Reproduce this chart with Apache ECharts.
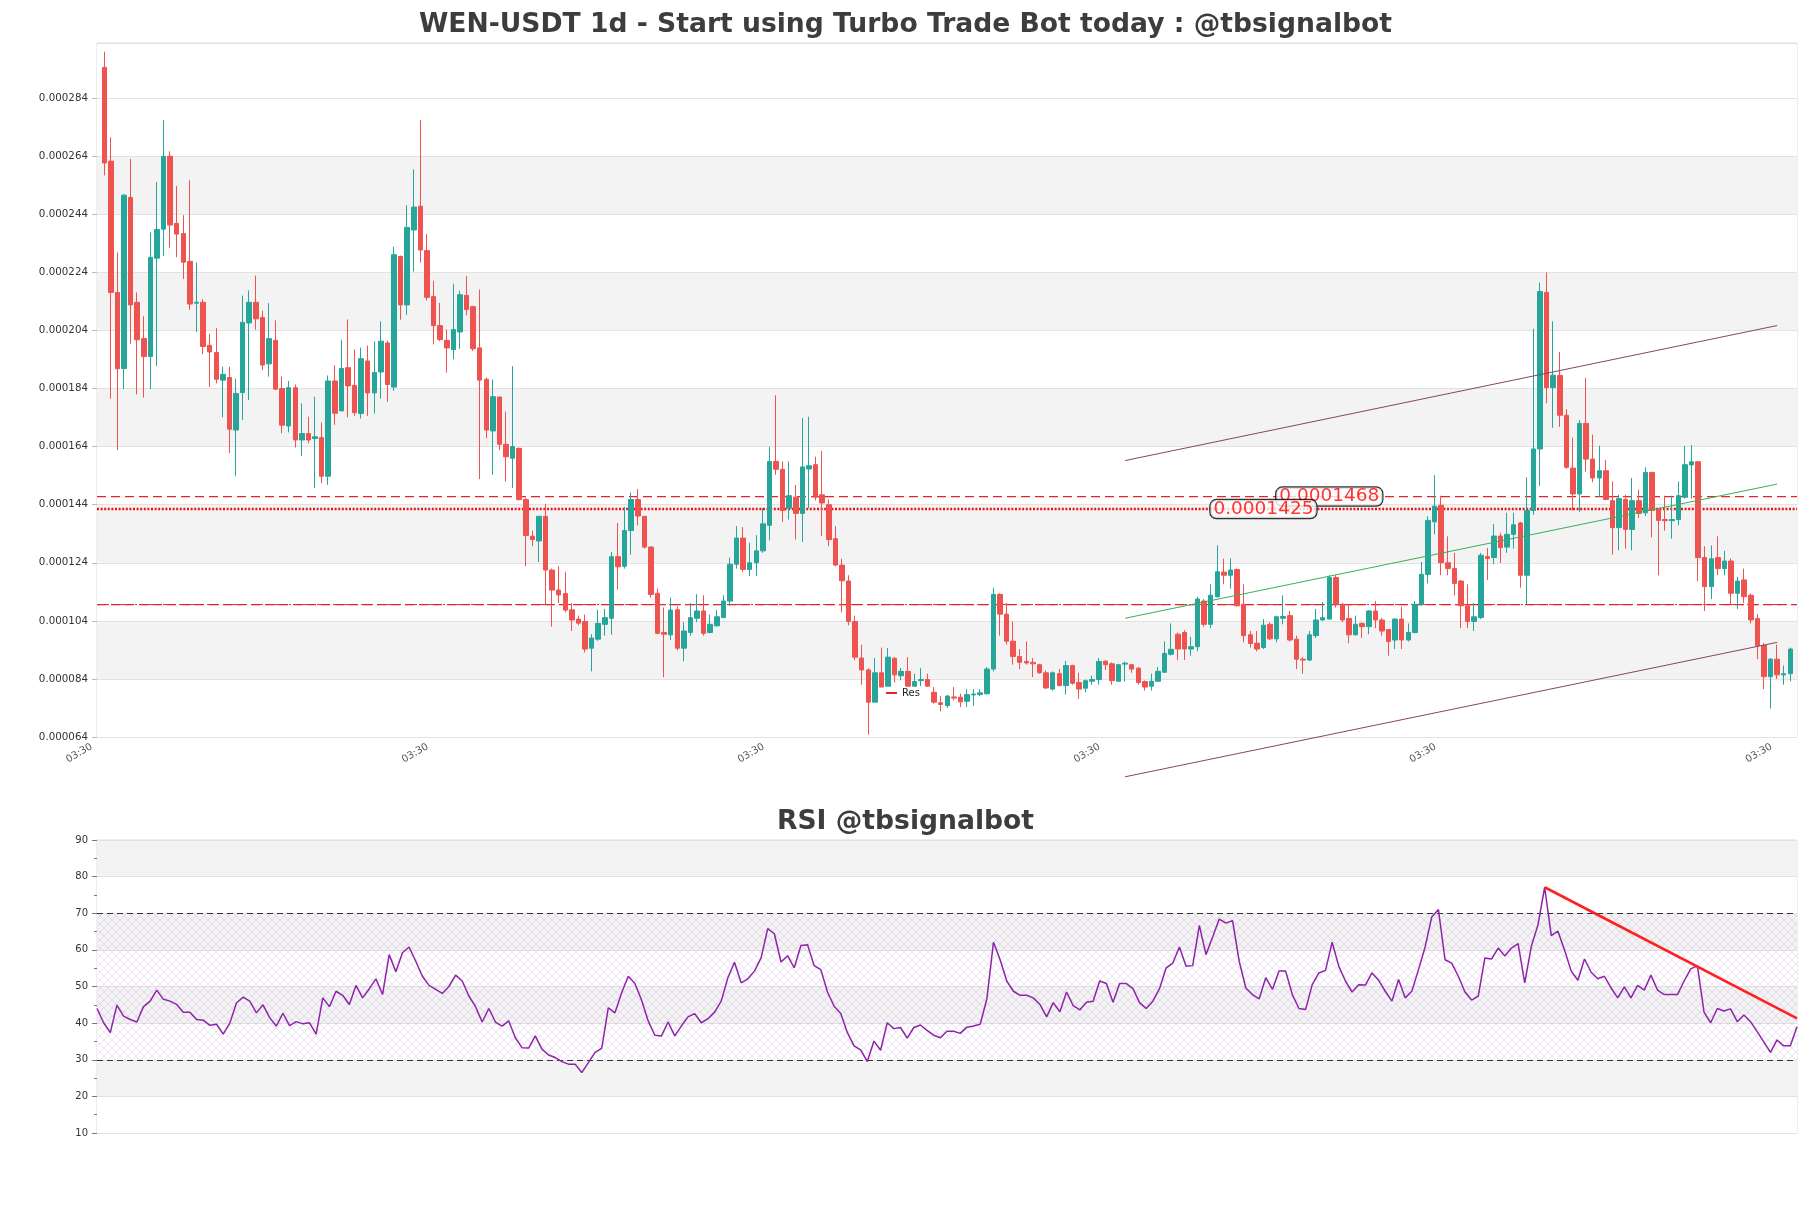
<!DOCTYPE html>
<html>
<head>
<meta charset="utf-8">
<title>WEN-USDT 1d</title>
<script src="https://cdn.jsdelivr.net/npm/echarts/dist/echarts.min.js"></script>
<style>
html,body{margin:0;padding:0;background:#fff;}
#chart{width:1811px;height:1208px;}
</style>
</head>
<body>
<div id="chart"></div>
<script>
// ---------------- data (prices in micro-USDT, i.e. x 1e-6) ----------------
const open = [
294.6,262.3,217.1,190.9,249.8,213.7,201.2,195.0,228.9,238.9,
264.0,240.9,237.4,227.8,213.4,213.7,198.9,196.4,186.9,187.8,
169.7,182.6,206.6,213.7,208.5,192.5,200.6,184.0,171.1,184.3,
166.3,168.5,166.8,167.1,153.8,186.6,176.3,191.2,185.1,175.4,
193.5,182.5,189.7,199.7,184.5,229.5,212.8,238.6,246.8,231.5,
215.7,205.7,200.6,197.4,203.5,216.1,212.2,198.0,187.2,169.4,
181.1,164.8,160.0,163.4,145.8,133.1,131.5,140.0,121.5,114.6,
113.4,107.8,104.6,103.8,94.6,97.7,102.8,104.9,126.1,122.8,
135.1,145.8,140.0,129.4,113.5,100.0,99.2,107.8,94.6,100.0,
104.9,107.4,100.0,102.3,105.1,110.8,123.5,132.5,121.7,124.0,
128.1,136.9,158.9,156.2,142.8,146.6,141.0,156.3,157.8,147.4,
144.0,132.3,123.2,117.7,103.8,91.2,87.1,76.0,86.1,81.5,
91.1,85.1,86.6,81.5,83.4,83.8,79.4,75.8,74.8,77.8,
77.7,76.3,78.5,78.6,78.9,87.4,113.1,106.3,97.0,91.7,
90.0,89.7,88.9,86.1,80.5,85.8,81.7,88.6,82.8,80.8,
83.2,83.8,90.1,89.2,83.2,89.1,88.9,87.7,83.1,81.5,
83.2,86.3,92.5,99.4,100.0,94.3,95.1,110.8,102.8,112.3,
120.8,119.7,121.7,109.7,99.2,96.3,94.8,102.8,97.8,104.9,
105.8,97.7,90.8,90.5,98.9,104.3,104.6,118.9,109.7,104.8,
99.2,103.1,102.0,107.4,104.3,101.0,97.4,104.6,97.4,100.0,
109.7,120.0,138.1,143.8,124.0,122.0,117.7,109.2,103.8,105.1,
126.1,125.8,133.2,129.4,133.8,137.7,119.7,142.0,163.2,217.1,
184.3,188.5,174.8,156.6,147.7,172.0,159.7,153.2,155.7,145.4,
136.1,145.8,135.5,145.4,141.2,155.1,142.3,138.9,138.5,138.9,
146.6,157.7,158.8,125.8,115.8,125.8,122.0,124.6,113.5,118.1,
112.8,104.8,95.5,84.8,90.8,85.4,85.8
];
const close = [
261.7,217.1,190.8,250.6,212.8,200.8,195.0,229.2,238.8,264.0,
240.3,237.2,227.5,213.1,213.7,198.5,196.6,187.2,188.9,170.0,
182.3,206.8,213.7,208.0,192.1,201.2,183.8,171.4,184.3,166.3,
168.5,166.3,167.4,153.8,186.6,175.5,190.9,184.9,175.7,194.3,
182.5,189.5,200.3,185.4,230.1,212.8,239.5,246.5,231.7,215.4,
205.7,200.9,198.0,204.3,216.3,211.2,197.7,186.9,169.7,181.2,
164.8,160.5,164.0,145.8,133.4,132.0,140.0,121.5,114.6,112.9,
107.7,104.3,103.2,94.3,98.1,103.1,105.1,126.1,122.6,135.1,
145.8,140.1,129.4,113.1,99.7,99.4,107.7,94.6,100.5,105.1,
107.4,99.7,102.8,105.4,110.8,123.5,132.5,121.7,124.0,128.1,
137.4,158.9,156.2,142.0,147.1,141.0,157.0,157.4,146.6,144.6,
132.0,123.2,117.8,103.8,91.5,87.1,76.0,86.1,81.2,91.5,
85.4,86.6,81.5,83.1,83.8,81.5,76.0,75.2,78.1,77.4,
76.1,78.6,78.8,79.2,87.4,113.1,106.3,97.0,91.7,89.7,
89.5,89.2,86.1,80.9,86.1,81.7,88.6,82.5,80.5,83.4,
83.8,90.0,88.9,83.4,88.9,89.4,87.4,82.8,81.2,83.2,
86.6,92.8,94.2,94.3,94.3,95.1,111.5,102.8,112.8,120.9,
119.7,121.5,109.2,98.9,96.2,94.3,102.5,97.8,105.4,105.5,
97.4,90.8,90.5,99.2,104.3,105.1,118.9,109.7,104.3,99.2,
102.8,102.0,107.4,104.3,100.5,96.9,104.6,97.4,100.0,109.7,
120.0,138.6,143.5,124.0,122.0,116.9,109.2,103.8,105.4,126.6,
125.5,133.2,129.2,133.8,137.1,119.7,142.0,163.2,217.4,184.3,
188.6,174.8,156.9,147.7,172.0,159.7,153.2,155.7,145.8,136.1,
146.1,135.5,145.4,141.0,155.1,142.0,138.6,138.5,138.9,147.1,
157.8,158.8,125.8,115.8,125.4,122.0,124.6,113.5,117.7,112.3,
104.3,95.4,84.8,90.8,85.4,85.8,94.3
];
const low = [
257.4,180.5,162.8,183.8,199.4,182.0,180.9,183.8,191.8,229.7,
232.5,229.2,221.7,211.1,203.5,195.8,184.5,185.8,174.1,161.8,
153.8,173.2,180.0,204.3,190.3,188.1,183.5,168.6,168.9,163.7,
160.8,165.1,149.7,151.4,150.8,171.5,176.3,174.1,174.6,173.7,
174.6,175.4,180.6,179.4,183.2,207.7,209.4,224.3,227.4,214.3,
199.2,200.3,189.5,194.1,197.7,209.2,196.9,152.8,166.9,154.3,
162.8,152.0,149.7,145.4,122.8,129.7,124.3,109.7,102.0,110.1,
106.9,100.5,102.5,93.1,86.6,97.1,98.9,99.2,114.8,122.0,
126.8,136.9,128.9,112.0,99.4,84.6,97.4,93.8,90.1,98.9,
103.5,98.9,99.7,102.0,105.1,109.2,122.0,120.9,119.4,119.4,
127.4,131.7,154.3,138.1,138.9,132.0,131.2,142.8,145.5,133.2,
129.7,122.8,106.9,102.5,90.5,82.0,64.8,76.0,81.2,81.5,
82.8,83.5,81.5,81.5,81.5,81.2,75.5,72.8,74.0,76.6,
74.3,74.3,74.8,78.1,78.6,86.6,98.9,95.8,88.9,87.4,
88.9,84.6,85.8,80.5,80.0,81.5,78.6,82.0,77.1,79.4,
82.0,82.0,87.1,82.0,83.1,83.1,86.1,82.0,80.0,80.0,
83.1,86.1,92.0,90.5,90.5,92.0,93.5,102.0,101.5,112.0,
116.6,115.1,108.9,96.6,94.8,93.5,94.3,97.4,96.6,102.8,
96.9,87.4,85.8,90.1,98.1,104.0,104.6,108.6,103.5,96.3,
98.9,98.1,99.4,101.5,98.9,92.0,94.3,94.3,96.9,99.7,
109.2,116.9,133.8,119.7,119.7,112.8,101.5,101.5,100.5,104.6,
118.1,123.5,123.9,127.4,128.9,115.4,109.7,140.5,150.5,178.9,
170.5,170.8,156.3,142.0,141.5,155.4,151.7,146.6,145.5,126.8,
128.3,128.9,128.3,139.4,140.1,132.8,119.7,135.1,132.3,136.9,
146.1,146.1,117.7,107.4,111.5,119.7,119.7,109.7,108.1,110.1,
103.1,90.8,80.5,73.8,84.0,82.0,83.2
];
const high = [
300.0,270.5,230.9,250.9,263.1,217.1,208.9,237.8,255.1,276.5,
265.7,253.8,243.7,255.7,227.4,214.8,202.9,204.8,191.5,191.5,
187.4,216.0,217.8,222.9,210.8,213.4,207.5,188.1,186.6,185.4,
178.9,174.3,181.2,172.3,188.5,192.0,200.8,207.8,197.5,198.1,
198.8,200.3,207.1,200.5,232.8,229.8,247.1,259.5,276.5,237.2,
221.1,213.5,204.3,220.1,217.7,222.8,212.5,218.1,187.8,187.1,
181.2,176.1,191.7,163.7,146.3,135.1,140.1,144.3,122.0,122.8,
120.9,110.1,105.8,106.2,99.4,107.8,108.1,127.7,137.7,143.2,
148.2,149.4,140.1,129.7,115.1,108.6,112.0,108.9,103.5,110.1,
113.2,112.8,106.2,107.7,112.8,125.8,136.6,136.3,130.9,133.5,
142.8,164.0,181.7,158.9,158.9,150.8,173.8,174.3,160.5,162.5,
145.8,136.6,125.4,119.7,105.8,95.8,87.7,91.2,94.8,94.6,
91.5,87.8,91.5,85.8,87.7,85.8,81.2,78.2,78.5,81.2,
78.9,80.5,80.5,80.5,88.1,115.4,113.5,110.1,103.8,94.3,
96.9,91.2,89.2,86.9,86.6,87.4,90.2,88.9,86.1,83.8,
85.1,91.2,90.5,89.7,89.2,90.0,89.2,88.1,83.5,85.8,
88.1,96.9,103.1,100.0,100.8,98.5,112.3,111.5,116.6,130.0,
125.4,125.5,122.0,116.6,100.5,100.5,104.6,103.5,105.8,112.8,
107.4,98.9,91.5,100.5,108.1,110.5,119.7,119.7,110.1,109.7,
105.8,103.5,107.7,110.8,105.1,101.2,104.9,108.9,103.1,110.8,
124.3,140.0,154.2,147.1,133.1,127.4,118.1,116.6,110.1,127.4,
129.1,137.4,134.3,141.2,141.2,138.1,153.5,204.6,220.5,224.0,
207.1,196.6,176.9,167.1,173.2,187.7,168.1,164.3,159.4,152.0,
147.4,147.4,153.2,149.2,156.9,155.4,142.8,147.1,147.1,152.0,
164.3,164.6,158.8,129.7,130.0,133.1,128.1,125.5,119.2,122.0,
113.5,106.3,96.3,91.2,95.8,88.6,94.8
];
const rsi = [
44.0,40.1,37.4,44.9,41.9,41.0,40.3,44.5,46.0,49.0,
46.5,46.0,45.1,43.0,43.0,41.0,40.8,39.4,39.7,37.0,
40.0,45.5,47.1,46.0,42.8,45.0,41.5,39.2,42.7,39.3,
40.4,39.8,40.1,37.0,46.9,44.5,48.7,47.6,45.1,50.3,
46.9,49.4,52.1,47.8,58.7,54.0,59.2,60.8,56.9,52.8,
50.3,49.2,48.1,50.0,53.1,51.5,47.4,44.5,40.3,44.0,
40.3,39.2,40.6,36.0,33.3,33.2,36.5,32.9,31.3,30.6,
29.5,28.8,28.8,26.5,29.2,32.0,33.1,44.2,42.8,48.3,
52.8,50.8,46.3,40.6,36.7,36.5,40.3,36.5,39.2,41.7,
42.6,40.1,41.2,43.0,46.0,52.4,56.6,51.0,52.1,54.2,
57.8,65.8,64.4,56.7,58.4,55.1,61.2,61.4,55.7,54.6,
48.5,44.6,42.6,37.4,33.8,32.7,29.5,35.1,32.6,40.1,
38.5,38.8,35.9,38.8,39.5,38.0,36.7,36.0,37.8,37.8,
37.2,38.9,39.2,39.7,46.6,62.1,57.3,51.5,48.7,47.6,
47.6,46.9,45.1,41.7,45.6,43.1,48.5,44.8,43.6,45.7,
46.0,51.5,50.8,45.7,50.8,50.8,49.4,45.6,44.0,46.0,
49.4,55.1,56.4,60.8,55.5,55.7,66.7,58.7,63.5,68.4,
67.3,68.0,56.9,49.6,47.8,46.6,52.4,49.2,54.2,54.2,
47.8,44.0,43.7,50.5,53.7,54.4,62.1,55.5,51.5,48.5,
50.5,50.4,53.7,51.7,48.7,46.0,51.9,46.9,48.7,54.6,
60.8,69.0,71.0,57.3,56.4,52.8,48.5,46.3,47.4,57.8,
57.5,60.5,58.3,60.5,61.7,51.0,61.0,66.9,77.1,63.9,
65.1,59.9,54.2,51.7,57.5,53.9,52.1,52.8,49.6,46.9,
49.9,46.9,50.3,49.0,53.1,49.0,47.8,47.8,47.8,51.5,
54.8,55.7,43.0,40.1,44.0,43.3,43.9,40.4,42.2,40.4,
37.7,34.9,32.0,35.4,33.8,33.8,39.0
];
const xTickLabels = ['03:30','03:30','03:30','03:30','03:30','03:30'];
const resLevels = [146.8];          // dashed red (legend "Res")
const dottedLevels = [142.5];       // dotted red
const lowerLevels = [109.6];        // dashed + dash-dot red
const priceLabelValues = [146.8, 142.5];
const priceLabelTexts = ['0.0001468', '0.0001425'];
const priceLabelX = [186, 176];
const channelX = [155, 254];
const channelUpper = [159.2, 205.7];
const channelMid = [104.9, 151.1];
const channelLower = [50.3, 96.6];
const rsiTrendX = [218, 256];
const rsiTrendY = [77.1, 41.3];
const rsiLevels = [70, 30];

// ---------------- build ----------------
const U = 1e-6;
const cats = open.map((_, i) => String(i));
const candles = open.map((o, i) => [o * U, close[i] * U, low[i] * U, high[i] * U]);
const FONT = 'DejaVu Sans';

function hatchPattern() {
  const c = document.createElement('canvas');
  c.width = 8; c.height = 8;
  const g = c.getContext('2d');
  g.strokeStyle = 'rgba(175,120,195,0.30)';
  g.lineWidth = 0.7;
  g.beginPath();
  g.moveTo(0, 0); g.lineTo(8, 8);
  g.moveTo(8, 0); g.lineTo(0, 8);
  g.stroke();
  return c;
}

const YMIN = 0.000064, YMAX = 0.000303, YINT = 0.00002;
const XFRAME_MAX = 258.1;
const bandColors = ['#ffffff','#f3f3f3','#ffffff','#f3f3f3','#ffffff','#f3f3f3',
                    '#ffffff','#f3f3f3','#ffffff','#f3f3f3','#ffffff','#ffffff'];

function hLine(name, v, style, width, color) {
  return {
    name: name, type: 'line', xAxisIndex: 0, yAxisIndex: 0,
    data: [[0, v * U], [XFRAME_MAX, v * U]],
    symbol: 'none', silent: true, z: 3,
    lineStyle: { color: color, width: width, type: style },
    itemStyle: { color: color }
  };
}

const series = [
  {
    name: 'candles', type: 'candlestick', xAxisIndex: 1, yAxisIndex: 1,
    data: candles, barWidth: 5, z: 4,
    itemStyle: {
      color: '#26a69a', color0: '#ef5350',
      borderColor: '#26a69a', borderColor0: '#ef5350', borderWidth: 1
    }
  }
];
resLevels.forEach(v => series.push(hLine('Res', v, [9, 5], 1.2, '#e0262b')));
dottedLevels.forEach(v => series.push(hLine('dotted', v, [2, 1.6], 2.4, '#ee1111')));
lowerLevels.forEach(v => {
  series.push(hLine('lower', v, [9, 5], 1.2, '#e0262b'));
  series.push(hLine('lower2', v, [12, 4, 2, 4], 1.0, '#e0262b'));
});
[[channelUpper, '#8a4368'], [channelMid, '#3cae5a'], [channelLower, '#8a4368']].forEach(([ys, col]) => {
  series.push({
    name: 'channel', type: 'line', xAxisIndex: 1, yAxisIndex: 1,
    data: channelX.map((x, k) => [x, ys[k] * U]),
    symbol: 'none', silent: true, clip: false, z: 5,
    lineStyle: { color: col, width: 1 }
  });
});
series.push({
  name: 'priceLabels', type: 'scatter', xAxisIndex: 1, yAxisIndex: 1,
  data: priceLabelX.map((x, k) => [x, priceLabelValues[k] * U, priceLabelTexts[k]]),
  symbolSize: 0, z: 10, silent: true,
  label: {
    show: true, position: 'inside',
    formatter: p => p.data[2],
    color: '#ff0000', fontSize: 18.5, fontFamily: FONT,
    backgroundColor: '#ffffff', borderColor: '#000000', borderWidth: 1.2,
    borderRadius: 6, padding: [0, 3, -1, 3]
  }
});
series.push({
  name: 'RSI', type: 'line', xAxisIndex: 2, yAxisIndex: 2,
  data: rsi, symbol: 'none', z: 5,
  lineStyle: { color: '#8e24aa', width: 1.5 },
  markArea: {
    silent: true,
    itemStyle: { color: { image: hatchPattern(), repeat: 'repeat' } },
    data: [[{ yAxis: rsiLevels[1] }, { yAxis: rsiLevels[0] }]]
  },
  markLine: {
    silent: true, symbol: 'none', label: { show: false },
    lineStyle: { color: '#333333', width: 1.2, type: [6, 4] },
    data: rsiLevels.map(v => ({ yAxis: v }))
  }
});
series.push({
  name: 'RSI trend', type: 'line', xAxisIndex: 2, yAxisIndex: 2,
  data: rsiTrendX.map((x, k) => [x, rsiTrendY[k]]),
  symbol: 'none', silent: true, z: 6,
  lineStyle: { color: '#ff2020', width: 2.6 }
});

const option = {
  animation: false,
  backgroundColor: '#ffffff',
  textStyle: { fontFamily: FONT },
  title: [
    { text: 'WEN-USDT 1d - Start using Turbo Trade Bot today : @tbsignalbot',
      left: 'center', top: 7,
      textStyle: { fontSize: 26.6, fontWeight: 'bold', color: '#3d3d3d', fontFamily: FONT } },
    { text: 'RSI @tbsignalbot', left: 'center', top: 804,
      textStyle: { fontSize: 26.6, fontWeight: 'bold', color: '#3d3d3d', fontFamily: FONT } }
  ],
  legend: {
    data: ['Res'], left: 878, top: 684, selectedMode: false,
    icon: 'rect', itemWidth: 11, itemHeight: 2, itemGap: 6,
    backgroundColor: 'rgba(255,255,255,0.85)', padding: [4, 8, 4, 8],
    textStyle: { fontSize: 10, color: '#222', fontFamily: FONT }
  },
  grid: [
    { left: 97, right: 14, top: 43, height: 694, show: true, borderColor: '#dddddd', borderWidth: 1, backgroundColor: 'transparent' },
    { left: 101, right: 17.4, top: 43, height: 694 },
    { left: 97, right: 14, top: 840, height: 293, show: true, borderColor: '#dddddd', borderWidth: 1 }
  ],
  xAxis: [
    { gridIndex: 0, type: 'value', min: 0, max: XFRAME_MAX, interval: 51,
      axisLine: { show: false }, axisTick: { show: false }, splitLine: { show: false },
      axisLabel: { rotate: 30, fontSize: 10, color: '#555', margin: 6, showMaxLabel: false,
        padding: [0, 6, 0, 0],
        fontFamily: FONT, formatter: (v, idx) => (xTickLabels[idx] !== undefined ? xTickLabels[idx] : '') } },
    { gridIndex: 1, type: 'category', data: cats, boundaryGap: true, show: false },
    { gridIndex: 2, type: 'category', data: cats, boundaryGap: false, show: false }
  ],
  yAxis: [
    { gridIndex: 0, type: 'value', min: YMIN, max: YMAX, interval: YINT,
      axisLine: { show: false },
      axisTick: { show: true, length: 5, lineStyle: { color: '#bbbbbb' } },
      axisLabel: { fontSize: 10.3, color: '#333', margin: 9, showMaxLabel: false, fontFamily: FONT,
        formatter: v => v.toFixed(6) },
      splitLine: { show: true, lineStyle: { color: '#e2e2e2', width: 1 } },
      splitArea: { show: true, areaStyle: { color: bandColors } } },
    { gridIndex: 1, type: 'value', min: YMIN, max: YMAX, show: false, splitLine: { show: false } },
    { gridIndex: 2, type: 'value', min: 10, max: 90, interval: 10,
      axisLine: { show: false },
      axisTick: { show: true, length: 5, lineStyle: { color: '#777' } },
      minorTick: { show: true, splitNumber: 2, length: 3, lineStyle: { color: '#777' } },
      axisLabel: { fontSize: 10, color: '#333', margin: 9, fontFamily: FONT },
      splitLine: { show: true, lineStyle: { color: '#e2e2e2' } },
      splitArea: { show: true, areaStyle: { color: ['#ffffff', '#f3f3f3'] } } }
  ],
  series: series
};

const chart = echarts.init(document.getElementById('chart'), null, { renderer: 'canvas' });
chart.setOption(option);
</script>
</body>
</html>
